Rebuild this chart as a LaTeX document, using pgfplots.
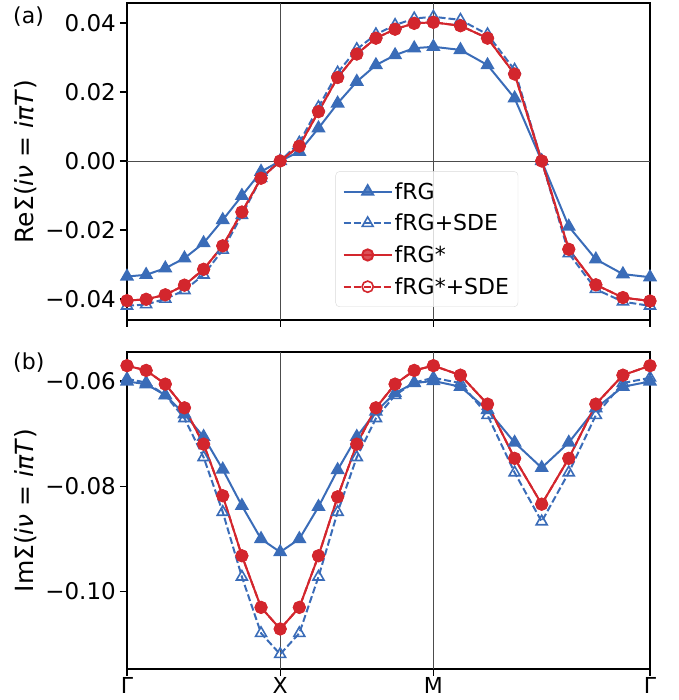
\documentclass[border=0pt]{standalone}
\usepackage{fontspec}
\setmainfont{DejaVu Sans}
\usepackage{pgfplots}
\usepackage{pgfplotstable}
\pgfplotsset{compat=1.18}

\definecolor{cblue}{RGB}{58,108,184}
\definecolor{cred}{RGB}{211,38,45}

\pgfplotstableread{
x fRG fRGSDE fRGs fRGsSDE
0 -0.0335 -0.0420 -0.0405 -0.0405
0.125 -0.0330 -0.0416 -0.0401 -0.0401
0.25 -0.0311 -0.0400 -0.0388 -0.0388
0.375 -0.0282 -0.0375 -0.0360 -0.0360
0.5 -0.0238 -0.0330 -0.0314 -0.0314
0.625 -0.0171 -0.0258 -0.0246 -0.0246
0.75 -0.0101 -0.0157 -0.0148 -0.0148
0.875 -0.0031 -0.0050 -0.0050 -0.0050
1 0 0 0 0
1.125 0.0027 0.0053 0.0043 0.0043
1.25 0.0095 0.0156 0.0143 0.0143
1.375 0.0167 0.0256 0.0242 0.0242
1.5 0.0230 0.0324 0.0310 0.0310
1.625 0.0278 0.0367 0.0356 0.0356
1.75 0.0307 0.0394 0.0382 0.0382
1.875 0.0327 0.0413 0.0399 0.0399
2 0.0331 0.0418 0.0402 0.0402
2.17678 0.0322 0.0409 0.0392 0.0392
2.35355 0.0278 0.0367 0.0356 0.0356
2.53033 0.0182 0.0264 0.0252 0.0252
2.70711 0 0 0 0
2.88388 -0.0190 -0.0268 -0.0256 -0.0256
3.06066 -0.0285 -0.0372 -0.0359 -0.0359
3.23744 -0.0328 -0.0408 -0.0396 -0.0396
3.41421 -0.0337 -0.0420 -0.0406 -0.0406
}\retable

\pgfplotstableread{
x fRG fRGSDE fRGs fRGsSDE
0 -0.0601 -0.0596 -0.0571 -0.0571
0.125 -0.0606 -0.0603 -0.0580 -0.0580
0.25 -0.0627 -0.0627 -0.0606 -0.0606
0.375 -0.0663 -0.0671 -0.0651 -0.0651
0.5 -0.0706 -0.0745 -0.0720 -0.0720
0.625 -0.0768 -0.0849 -0.0818 -0.0818
0.75 -0.0837 -0.0972 -0.0932 -0.0932
0.875 -0.0900 -0.1079 -0.1030 -0.1030
1 -0.0925 -0.1119 -0.1071 -0.1071
1.125 -0.0900 -0.1079 -0.1030 -0.1030
1.25 -0.0839 -0.0972 -0.0932 -0.0932
1.375 -0.0769 -0.0849 -0.0820 -0.0820
1.5 -0.0706 -0.0745 -0.0720 -0.0720
1.625 -0.0658 -0.0671 -0.0651 -0.0651
1.75 -0.0623 -0.0627 -0.0606 -0.0606
1.875 -0.0604 -0.0603 -0.0580 -0.0580
2 -0.0600 -0.0594 -0.0571 -0.0571
2.17678 -0.0611 -0.0604 -0.0589 -0.0589
2.35355 -0.0655 -0.0665 -0.0644 -0.0644
2.53033 -0.0717 -0.0774 -0.0747 -0.0747
2.70711 -0.0765 -0.0867 -0.0834 -0.0834
2.88388 -0.0717 -0.0774 -0.0747 -0.0747
3.06066 -0.0652 -0.0665 -0.0644 -0.0644
3.23744 -0.0611 -0.0604 -0.0589 -0.0589
3.41421 -0.0601 -0.0594 -0.0571 -0.0571
}\imtable

\pgfplotsset{
  myaxis/.style={
    scale only axis, width=523pt, height=317pt,
    xmin=0, xmax=3.41421,
    scaled ticks=false,
    axis line style={line width=1.1pt},
    tick align=outside, tick pos=left, major tick length=7pt,
    every tick/.style={black, line width=1.1pt},
    xtick={0,1,2,3.41421},
    extra x ticks={1,2}, extra x tick labels={},
    extra x tick style={grid=major, major grid style={black!70, line width=0.9pt}},
    tick label style={font=\fontsize{23}{27}\selectfont},
    yticklabel style={inner xsep=4pt},
    xticklabel style={inner ysep=1pt, yshift=0pt, font=\fontsize{22}{26}\selectfont},
    label style={font=\fontsize{25}{29}\selectfont},
    ylabel style={at={(axis description cs:-0.193,0.5)}, anchor=center},
    s1/.style={cblue, line width=2pt, mark=triangle*, mark size=6.3pt, mark options={solid, fill=cblue}},
    s2/.style={cblue, line width=2pt, dash pattern=on 7pt off 3pt, mark=triangle, mark size=6.3pt, mark options={solid, line width=1.6pt}},
    s3/.style={cred, line width=2pt, mark=*, mark size=5.6pt, mark options={solid, fill=cred}},
    s4/.style={cred, line width=2pt, dash pattern=on 7pt off 3pt, mark=o, mark size=5.6pt, mark options={solid, line width=1.6pt}},
    legend image code/.code={\draw[mark repeat=2,mark phase=2] plot coordinates {(0pt,0pt) (24pt,0pt) (48pt,0pt)};},
  }
}

\begin{document}
\begin{tikzpicture}
\path[use as bounding box] (0pt,0pt) rectangle (678pt,700pt);
\begin{axis}[myaxis, at={(127pt,380pt)}, anchor=south west,
  xticklabels={},
  ymin=-0.0461, ymax=0.0458,
  ytick={-0.04,-0.02,0,0.02,0.04},
  yticklabels={\mbox{−0.04},\mbox{−0.02},\mbox{0.00},\mbox{0.02},\mbox{0.04}},
  extra y ticks={0}, extra y tick labels={},
  extra y tick style={grid=major, major grid style={black!70, line width=0.9pt}},
  ylabel={ReΣ(\textit{iν} = \textit{iπT})},
  legend style={at={(rel axis cs:0.748,0.041)}, anchor=south east,
    draw=black!15, rounded corners=4pt, fill=white, fill opacity=0.8, text opacity=1,
    font=\fontsize{22}{26}\selectfont, row sep=9.5pt, inner xsep=7pt, inner ysep=9pt},
  legend cell align=left,
]
\addplot[s1] table[x=x,y=fRG] {\retable}; \addlegendentry{fRG}
\addplot[s2] table[x=x,y=fRGSDE] {\retable}; \addlegendentry{fRG+SDE}
\addplot[s3] table[x=x,y=fRGs] {\retable}; \addlegendentry{fRG*}
\addplot[s4] table[x=x,y=fRGsSDE] {\retable}; \addlegendentry{fRG*+SDE}
\end{axis}
\begin{axis}[myaxis, at={(127pt,31pt)}, anchor=south west,
  xticklabels={\mbox{Γ},\mbox{X},\mbox{M},\mbox{Γ}},
  ymin=-0.1147, ymax=-0.0545,
  ytick={-0.10,-0.08,-0.06},
  yticklabels={\mbox{−0.10},\mbox{−0.08},\mbox{−0.06}},
  ylabel={ImΣ(\textit{iν} = \textit{iπT})},
]
\addplot[s1] table[x=x,y=fRG] {\imtable};
\addplot[s2] table[x=x,y=fRGSDE] {\imtable};
\addplot[s3] table[x=x,y=fRGs] {\imtable};
\addplot[s4] table[x=x,y=fRGsSDE] {\imtable};
\end{axis}
\node[anchor=north west, inner sep=0pt, font=\fontsize{22}{26}\selectfont] at (13pt,693pt) {(a)};
\node[anchor=north west, inner sep=0pt, font=\fontsize{22}{26}\selectfont] at (13pt,347pt) {(b)};
\end{tikzpicture}
\end{document}
